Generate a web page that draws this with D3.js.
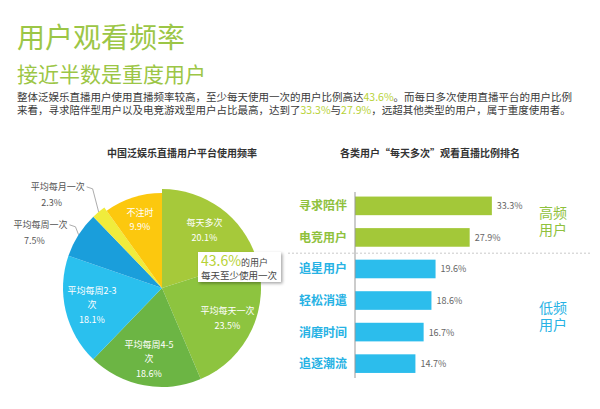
<!DOCTYPE html>
<html><head><meta charset="utf-8">
<script src="https://cdn.jsdelivr.net/npm/d3@7/dist/d3.min.js"></script>
<style>
body{margin:0;background:#fff}
svg{display:block}
text{font-family:"Noto Sans CJK SC","Noto Sans",sans-serif}
</style>
</head><body>
<svg id="c" width="600" height="409"></svg>
<script>
// ---------- data ----------
const pieCategories = ["每天多次","平均每天一次","平均每周4-5次","平均每周2-3次","平均每周一次","平均每月一次","不注时"];
const pieLabelLines = [["每天多次"],["平均每天一次"],["平均每周4-5","次"],["平均每周2-3","次"],["平均每周一次"],["平均每月一次"],["不注时"]];
const pieValues = [20.1, 23.5, 18.6, 18.1, 7.5, 2.3, 9.9];
const barCategories = ["寻求陪伴","电竞用户","追星用户","轻松消遣","消磨时间","追逐潮流"];
const barValues = [33.3, 27.9, 19.6, 18.6, 16.7, 14.7];
const barGroups = ["high","high","low","low","low","low"];
const groupKeys = ["high","low"];
const groupLabelLines = [["高频","用户"],["低频","用户"]];
const titleText = "用户观看频率";
const subtitleText = "接近半数是重度用户";
const introLines = [
  [["整体泛娱乐直播用户使用直播频率较高，至少每天使用一次的用户比例高达",0],["43.6%",1],["。而每日多次使用直播平台的用户比例",0]],
  [["来看，寻求陪伴型用户以及电竞游戏型用户占比最高，达到了",0],["33.3%",1],["与",0],["27.9%",1],["，远超其他类型的用户，属于重度使用者。",0]]
];
const pieTitle = "中国泛娱乐直播用户平台使用频率";
const barTitle = "各类用户“每天多次”观看直播比例排名";
const calloutSuffix = "的用户";
const calloutLine2 = "每天至少使用一次";

// ---------- styles ----------
const pieColors = ["#a6c93a","#8dc43f","#6cb544","#2ac0ee","#1a9edb","#f0ec3c","#fcc80e"];
const HEAD_GREEN = "#9cc646";
const HL = "#b7d236";
const BAR_GREEN = "#a3c839", BAR_BLUE = "#2cbdec";
const LAB_GREEN = "#8fc13c", LAB_BLUE = "#27b2e4";

const svg = d3.select("#c");
const defs = svg.append("defs");
const f = defs.append("filter").attr("id","sh").attr("x","-20%").attr("y","-20%").attr("width","150%").attr("height","160%");
f.append("feDropShadow").attr("dx",1.5).attr("dy",1.5).attr("stdDeviation",1.5).attr("flood-color","#000").attr("flood-opacity",0.35);

// ---------- header ----------
svg.append("text").attr("x",17).attr("y",48).attr("font-size",28).attr("fill",HEAD_GREEN).text(titleText);
svg.append("text").attr("x",17).attr("y",82).attr("font-size",21).attr("fill",HEAD_GREEN).text(subtitleText);
introLines.forEach((line,i)=>{
  const t = svg.append("text").attr("x",17).attr("y",101+i*13).attr("font-size",10.5).attr("fill","#3a3a3a");
  line.forEach(([s,h])=>t.append("tspan").attr("fill",h?HL:"#3a3a3a").text(s));
});

// ---------- pie ----------
const cx = 162, cy = 288, R = 99;
const sliceR = {6: 95};
const g = svg.append("g").attr("transform",`translate(${cx},${cy})`);
const arcs = d3.pie().sort(null).value(d=>d)(pieValues);
const arc = d3.arc().innerRadius(0).outerRadius((d,i)=>sliceR[d.index] || R);
const labelArc = d3.arc().innerRadius(72).outerRadius(72);
g.selectAll("path.s").data(arcs).join("path").attr("class","s")
  .attr("d",arc).attr("fill",(d,i)=>pieColors[i]);

svg.append("text").attr("x",182).attr("y",157).attr("text-anchor","middle")
  .attr("font-size",10).attr("font-weight","bold").attr("fill","#333").text(pieTitle);

const isOutside = d => d.value < 8;
const leaderR = {4:106, 5:121};
const leaderShift = {4:0.047, 5:0.084};
arcs.forEach((d,i)=>{
  const lines = pieLabelLines[i].concat([d.value.toFixed(1)+"%"]);
  if(!isOutside(d)){
    const [x,y] = labelArc.centroid(d);
    const n = lines.length, lh = 14.5;
    lines.forEach((s,k)=>{
      g.append("text").attr("x",x).attr("y",y+(k-(n-1)/2)*lh+3.5)
        .attr("text-anchor","middle").attr("font-size",9).attr("fill","#fff").text(s);
    });
  } else {
    const a = (d.startAngle+d.endAngle)/2;
    const rr = sliceR[i] || R;
    const p0 = [Math.sin(a)*rr, -Math.cos(a)*rr];
    const a2 = a + leaderShift[i], r2 = leaderR[i];
    const p1 = [Math.sin(a2)*r2, -Math.cos(a2)*r2];
    const p2 = [p1[0]-6, p1[1]-2];
    g.append("path").attr("d",d3.line()([p0,p1,p2])).attr("fill","none").attr("stroke","#888").attr("stroke-width",0.7);
    g.append("text").attr("x",p1[0]-35).attr("y",p1[1]+1).attr("text-anchor","middle")
      .attr("font-size",9).attr("fill","#555").text(lines[0]);
    g.append("text").attr("x",p1[0]-41).attr("y",p1[1]+17.5).attr("text-anchor","middle")
      .attr("font-size",9).attr("fill","#555").text(lines[lines.length-1]);
  }
});

// callout
const dailyShare = d3.sum(pieValues.slice(0,2));
const cb = svg.append("g").attr("transform",`translate(${cx+36},${cy-36})`);
cb.append("rect").attr("width",83).attr("height",30).attr("fill","#fff").attr("filter","url(#sh)");
const ct = cb.append("text").attr("x",3).attr("y",14);
ct.append("tspan").attr("font-size",14).attr("fill",HL).text(dailyShare.toFixed(1)+"%");
ct.append("tspan").attr("font-size",9).attr("fill","#444").text(calloutSuffix);
cb.append("text").attr("x",3).attr("y",26.5).attr("font-size",9.5).attr("fill","#444").text(calloutLine2);

// ---------- bars ----------
const x = d3.scaleLinear().domain([0,35]).range([355,355+35*4.11]);
const y = d3.scaleBand().domain(barCategories).range([190.25,379.25]).paddingInner(0.41).paddingOuter(0.2);
svg.append("text").attr("x",430).attr("y",157).attr("text-anchor","middle")
  .attr("font-size",10).attr("font-weight","bold").attr("fill","#333").text(barTitle);

const col = (i,a,b)=> barGroups[i]==="high"?a:b;
svg.selectAll("rect.b").data(barValues).join("rect").attr("class","b")
  .attr("x",x(0)).attr("y",(d,i)=>y(barCategories[i])).attr("height",y.bandwidth())
  .attr("width",d=>x(d)-x(0)).attr("fill",(d,i)=>col(i,BAR_GREEN,BAR_BLUE));
svg.selectAll("text.v").data(barValues).join("text").attr("class","v")
  .attr("x",d=>x(d)+5).attr("y",(d,i)=>y(barCategories[i])+y.bandwidth()/2+3.5)
  .attr("font-size",9).attr("fill","#666").text(d=>d.toFixed(1)+"%");
svg.selectAll("text.c").data(barCategories).join("text").attr("class","c")
  .attr("x",x(0)-8).attr("y",d=>y(d)+y.bandwidth()/2+4.5).attr("text-anchor","end")
  .attr("font-size",12).attr("font-weight","bold").attr("fill",(d,i)=>col(i,LAB_GREEN,LAB_BLUE)).text(d=>d);
svg.append("line").attr("x1",x(0)).attr("x2",x(0)).attr("y1",192).attr("y2",378).attr("stroke","#999").attr("stroke-width",1);

// separator between groups
const lastHigh = barCategories[barGroups.lastIndexOf("high")];
const firstLow = barCategories[barGroups.indexOf("low")];
const sepY = (y(lastHigh)+y.bandwidth()+y(firstLow))/2;
svg.append("line").attr("x1",288).attr("x2",590).attr("y1",sepY).attr("y2",sepY)
  .attr("stroke","#bbb").attr("stroke-width",0.8).attr("stroke-dasharray","2,2");

groupKeys.forEach((k,gi)=>{
  const cats = barCategories.filter((c,i)=>barGroups[i]===k);
  const mid = (y(cats[0]) + y(cats[cats.length-1]) + y.bandwidth())/2;
  groupLabelLines[gi].forEach((s,li)=>{
    svg.append("text").attr("x",553).attr("y",mid+(li-0.5)*17+5).attr("text-anchor","middle")
      .attr("font-size",14).attr("fill",gi===0?LAB_GREEN:LAB_BLUE).text(s);
  });
});
</script>
</body></html>
